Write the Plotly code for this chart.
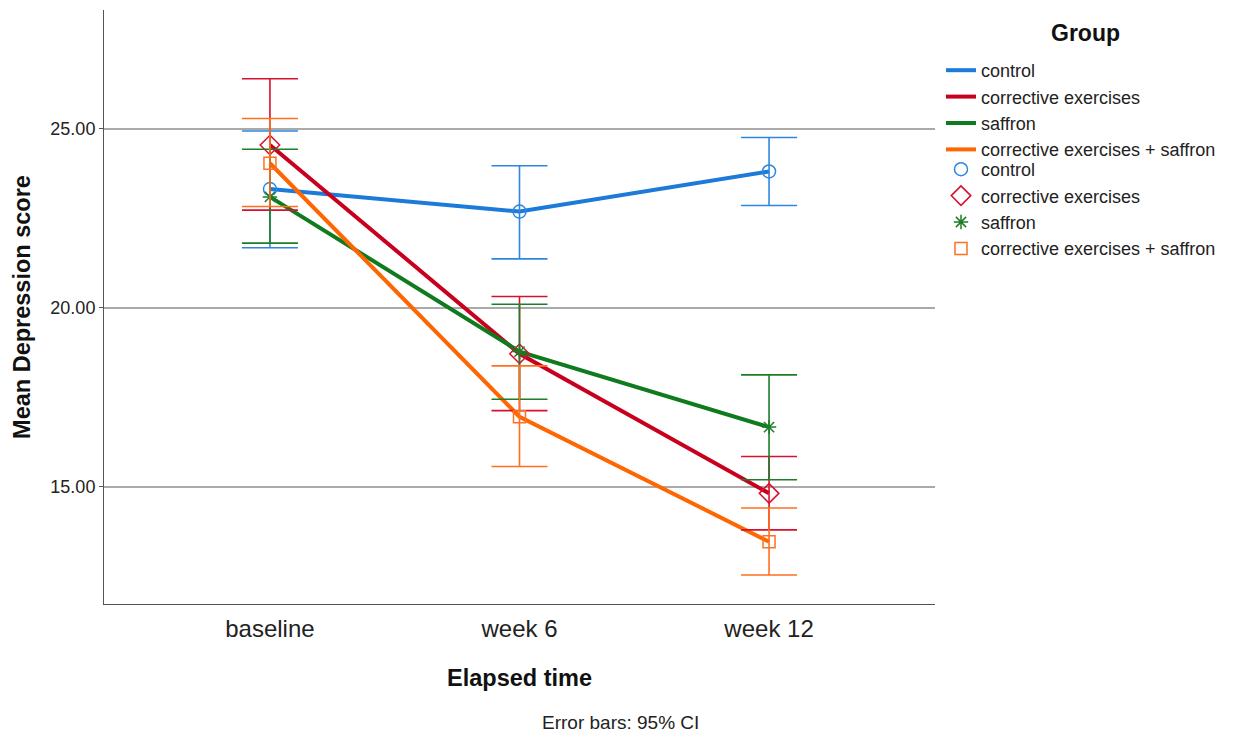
import plotly.graph_objects as go

times = ["baseline", "week 6", "week 12"]
groups = ["control", "corrective exercises", "saffron", "corrective exercises + saffron"]

means = {
    "control": [23.32, 22.69, 23.81],
    "corrective exercises": [24.55, 18.72, 14.82],
    "saffron": [23.10, 18.78, 16.67],
    "corrective exercises + saffron": [24.04, 16.96, 13.47],
}
upper = {
    "control": [24.94, 23.97, 24.76],
    "corrective exercises": [26.40, 20.32, 15.85],
    "saffron": [24.43, 20.10, 18.13],
    "corrective exercises + saffron": [25.29, 18.38, 14.41],
}
lower = {
    "control": [21.68, 21.37, 22.86],
    "corrective exercises": [22.73, 17.13, 13.80],
    "saffron": [21.81, 17.45, 15.20],
    "corrective exercises + saffron": [22.83, 15.57, 12.54],
}

line_colors = {
    "control": "#1C7AD9",
    "corrective exercises": "#C8001E",
    "saffron": "#107A1E",
    "corrective exercises + saffron": "#FF6600",
}
bar_colors = {
    "control": "#2F86E0",
    "corrective exercises": "#D8102E",
    "saffron": "#1E7E28",
    "corrective exercises + saffron": "#FF7020",
}
symbols = {
    "control": "circle-open",
    "corrective exercises": "diamond-open",
    "saffron": "asterisk-open",
    "corrective exercises + saffron": "square-open",
}
sizes = {
    "control": 13,
    "corrective exercises": 15,
    "saffron": 12,
    "corrective exercises + saffron": 12,
}

xidx = list(range(len(times)))
fig = go.Figure()

for g in groups:
    fig.add_trace(go.Scatter(
        x=xidx, y=means[g], mode="lines", name=g,
        line=dict(color=line_colors[g], width=4),
        legend="legend",
    ))

for g in groups:
    ep = [u - m for u, m in zip(upper[g], means[g])]
    em = [m - l for m, l in zip(means[g], lower[g])]
    fig.add_trace(go.Scatter(
        x=xidx, y=means[g], mode="markers", name=g,
        marker=dict(symbol=symbols[g], size=sizes[g], color=bar_colors[g],
                    line=dict(color=bar_colors[g], width=1.5)),
        error_y=dict(type="data", symmetric=False, array=ep, arrayminus=em,
                     color=bar_colors[g], thickness=1.6, width=28),
        legend="legend2",
    ))

# page body has an 8px margin; compensate so the plot lands where the reference has it
PL, PT, PW, PH = 104, 10, 831, 594


def px_x(p):
    return (p - PL) / PW


def px_y(p):
    return 1 - (p - PT) / PH


legend_common = dict(
    xanchor="left", yanchor="top",
    font=dict(size=18, color="#222"),
    bgcolor="rgba(0,0,0,0)",
    tracegroupgap=0,
)

fig.update_layout(
    width=1231, height=726,
    margin=dict(l=96, r=304, t=2, b=130),
    plot_bgcolor="white", paper_bgcolor="white",
    font=dict(family="Arial, Liberation Sans, sans-serif", color="#222"),
    showlegend=True,
    legend=dict(x=px_x(941), y=px_y(52), **legend_common),
    legend2=dict(x=px_x(941), y=px_y(151), **legend_common),
    xaxis=dict(
        range=[-0.665, 2.665],
        tickmode="array", tickvals=xidx, ticktext=times,
        tickfont=dict(size=24, color="#222"),
        showgrid=False, zeroline=False,
        showline=True, linecolor="#555", linewidth=1,
        ticks="", ticklen=0, ticklabelstandoff=3,
        title=dict(text="<b>Elapsed time</b>", font=dict(size=23.5, color="#111"), standoff=28),
    ),
    yaxis=dict(
        range=[11.73, 28.32],
        tickmode="array", tickvals=[15, 20, 25], ticktext=["15.00", "20.00", "25.00"],
        tickfont=dict(size=18, color="#222"),
        showgrid=True, gridcolor="#AAAAAA", gridwidth=1.5,
        zeroline=False,
        showline=True, linecolor="#555", linewidth=1,
        ticks="outside", ticklen=4, tickcolor="#555",
        title=dict(text="<b>Mean Depression score</b>", font=dict(size=23.5, color="#111"), standoff=13),
    ),
    annotations=[
        dict(text="<b>Group</b>", xref="paper", yref="paper",
             x=px_x(1085), y=px_y(33), xanchor="center", yanchor="middle",
             showarrow=False, font=dict(size=23, color="#111")),
        dict(text="Error bars: 95% CI", xref="paper", yref="paper",
             x=px_x(620), y=px_y(722), xanchor="center", yanchor="middle",
             showarrow=False, font=dict(size=19, color="#222")),
    ],
)

fig.write_html("out.html")
